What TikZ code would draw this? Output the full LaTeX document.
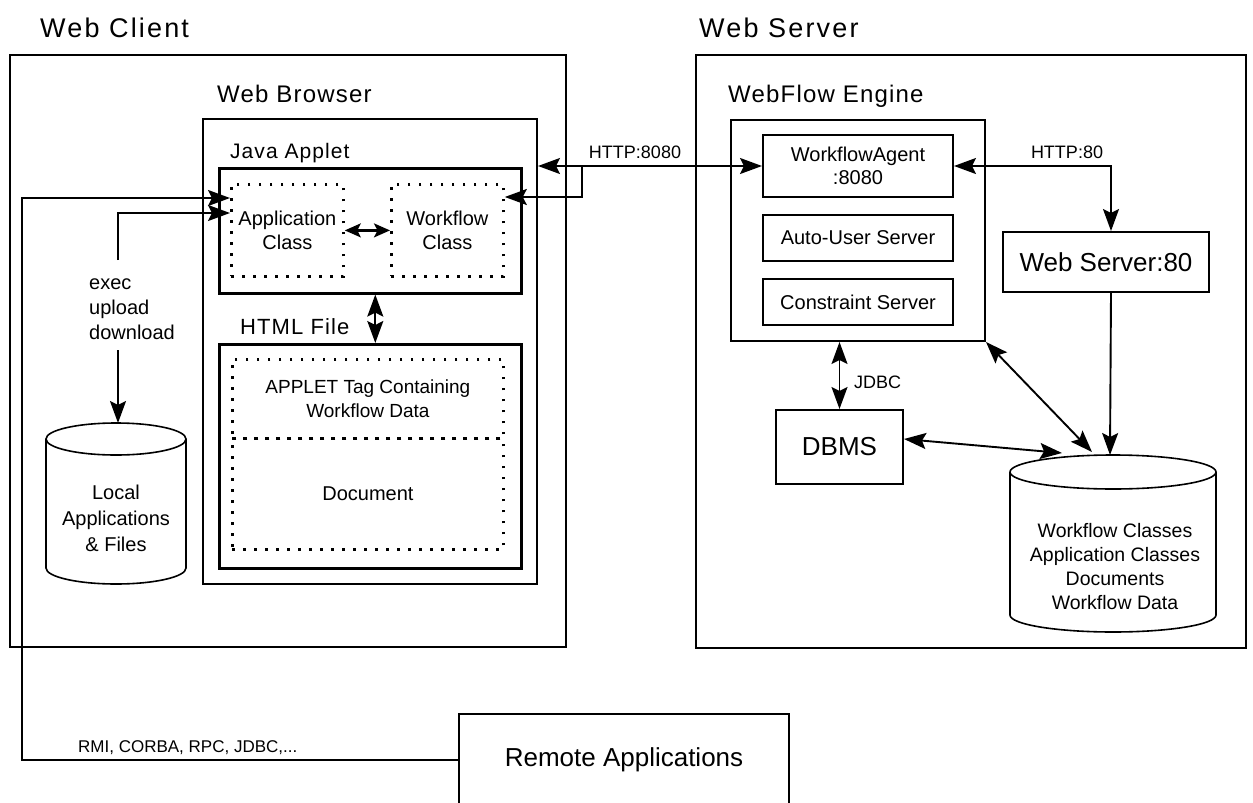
\documentclass[tikz,border=0pt]{standalone}
\usepackage{fontspec}
\setmainfont{Liberation Sans}
\newfontfamily\titlefont[LetterSpace=8]{Liberation Sans}
\newfontfamily\headfont[LetterSpace=5]{Liberation Sans}
\usetikzlibrary{arrows.meta}

\tikzset{
  outer/.style={draw,line width=1.5pt,anchor=north west,inner sep=0pt},
  box/.style={draw,line width=2pt,anchor=north west,inner sep=0pt,align=center,font=\fontsize{20}{23}\selectfont},
  thick box/.style={box,line width=2.6pt},
  dotbox/.style={draw,line width=2.8pt,dash pattern=on 2.8pt off 8.2pt,anchor=north west,inner sep=0pt,align=center,font=\fontsize{20}{24}\selectfont},
  title/.style={anchor=base west,inner sep=0pt,font=\titlefont\fontsize{27}{30}\selectfont},
  head/.style={anchor=base west,inner sep=0pt,font=\headfont\fontsize{24}{28}\selectfont},
  lbl/.style={inner sep=0pt,font=\fontsize{18}{22}\selectfont},
  arr/.style={line width=1.9pt,-{Stealth[length=22pt,width=16pt,inset=4pt]}},
  dbl/.style={line width=1.9pt,{Stealth[length=22pt,width=16pt,inset=4pt]}-{Stealth[length=22pt,width=16pt,inset=4pt]}},
  cyl/.style={line width=1.6pt}
}

\begin{document}
\begin{tikzpicture}[x=1pt,y=-1pt]
\useasboundingbox (0,0) rectangle (1253,803);
\clip (0,0) rectangle (1253,803);

% client side
\node[title] (clientlbl) at (40,37) {Web Client};
\node[outer,minimum width=556pt,minimum height=592pt] (client) at (9,54) {};
\node[head] (browserlbl) at (217,102) {Web Browser};
\node[outer,line width=2pt,minimum width=334pt,minimum height=465pt] (browser) at (202,118) {};
\node[head,font=\headfont\fontsize{21}{25}\selectfont] (appletlbl) at (230,158) {Java Applet};
\node[thick box,minimum width=302pt,minimum height=125pt] (applet) at (218,167) {};
\node[dotbox,minimum width=112pt,minimum height=92pt] (app) at (230,183) {Application\\Class};
\node[dotbox,minimum width=112pt,minimum height=92pt] (wfc) at (390,183) {Workflow\\Class};
\node[head,font=\headfont\fontsize{22}{26}\selectfont] (htmllbl) at (240,334) {HTML File};
\node[thick box,minimum width=302pt,minimum height=224pt] (html) at (218,343) {};
\node[dotbox,font=\fontsize{19}{24}\selectfont,minimum width=271pt,minimum height=79pt] (tag) at (231,358) {APPLET Tag Containing\\Workflow Data};
\node[dotbox,minimum width=271pt,minimum height=111pt] (doc) at (231,437) {Document};

% local store
\draw[cyl] (116,439) ellipse [x radius=70pt,y radius=16pt];
\draw[cyl] (46,439) -- (46,568) arc[start angle=180,end angle=360,x radius=70pt,y radius=16pt] -- (186,439);
\node[align=center,font=\fontsize{20}{26}\selectfont] (localtxt) at (116,518) {Local\\Applications\\\& Files};
\coordinate (localtop) at (118,423);
\node[anchor=west,align=left,inner sep=0pt,font=\fontsize{20}{25}\selectfont] (ops) at (89,309) {exec\\upload\\download};
\coordinate (opsup) at (118,260);
\coordinate (opsdown) at (118,350);

% server side
\node[title] (serverlbl) at (699,37) {Web Server};
\node[outer,minimum width=550pt,minimum height=593pt] (server) at (695,54) {};
\node[head] (enginelbl) at (728,102) {WebFlow Engine};
\node[outer,line width=2pt,minimum width=254pt,minimum height=221pt] (engine) at (730,119) {};
\node[box,minimum width=190pt,minimum height=62pt] (agent) at (762,134) {WorkflowAgent\\:8080};
\node[box,minimum width=190pt,minimum height=46pt] (autouser) at (762,214) {Auto-User Server};
\node[box,minimum width=190pt,minimum height=46pt] (constraint) at (762,278) {Constraint Server};
\node[box,font=\fontsize{26}{30}\selectfont,minimum width=206pt,minimum height=60pt] (webserver) at (1002,231) {Web Server:80};
\node[box,font=\fontsize{26}{30}\selectfont,minimum width=127pt,minimum height=74pt] (dbms) at (775,409) {DBMS};

% repository
\draw[cyl] (1113,472) ellipse [x radius=103pt,y radius=17pt];
\draw[cyl] (1010,472) -- (1010,615) arc[start angle=180,end angle=360,x radius=103pt,y radius=17pt] -- (1216,472);
\node[align=center,font=\fontsize{19.5}{24}\selectfont] (dbtxt) at (1115,567) {Workflow Classes\\Application Classes\\Documents\\Workflow Data};
\coordinate (dbtop) at (1110,455);
\coordinate (dbleft) at (1062,453);
\coordinate (dbmid) at (1092,452);

\node[box,font=\fontsize{26}{30}\selectfont,minimum width=330pt,minimum height=92pt] (remote) at (458,713) {Remote Applications};
\coordinate (rmiside) at (22,0);
\coordinate (httpsplit) at (582,166);

% connectors
\draw[arr] (remote.west) -- (remote.west -| rmiside) |- ([yshift=-15pt]app.north west);
\draw[arr] (opsup) |- ([yshift=-30pt]app.north west);
\draw[arr] (opsdown) -- (localtop);
\draw[line width=2.2pt,{Stealth[length=16pt,width=14pt,inset=3.5pt]}-{Stealth[length=16pt,width=14pt,inset=3.5pt]}] (app) -- (wfc);
\draw[dbl] ([xshift=5pt]applet.south) -- ([xshift=5pt]html.north);
\draw[dbl] (browser.east |- agent.west) -- (agent.west);
\draw[arr] (httpsplit) |- ([yshift=-14pt]wfc.north east);
\draw[dbl] (agent.east) -| ([xshift=5pt]webserver.north);
\draw[arr] ([xshift=5pt]webserver.south) -- (dbtop);
\draw[dbl] (engine.south east) -- (dbmid);
\draw[dbl] (dbms.north |- engine.south) -- (dbms.north);
\draw[dbl] ([yshift=8pt]dbms.east) -- (dbleft);

\node[lbl,anchor=base] (httplbl) at (635,158) {HTTP:8080};
\node[lbl,anchor=base] (http80lbl) at (1067,158) {HTTP:80};
\node[lbl,anchor=base west] (jdbclbl) at (854,388) {JDBC};
\node[lbl,anchor=base west,font=\fontsize{17}{20}\selectfont] (rmilbl) at (78,752) {RMI, CORBA, RPC, JDBC,...};
\end{tikzpicture}
\end{document}
